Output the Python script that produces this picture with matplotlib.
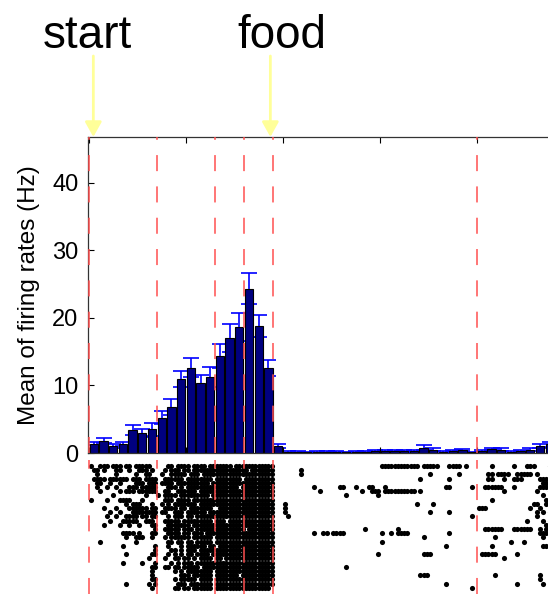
import matplotlib
matplotlib.use("Agg")
import matplotlib.pyplot as plt
import numpy as np

plt.rcParams["font.family"] = ["Liberation Sans", "DejaVu Sans"]

# mean firing rate per time bin (Hz) and its error
rates = [1.4, 1.8, 1.0, 1.3, 3.4, 3.0, 3.5, 5.2, 6.8, 11.0, 12.6, 10.4, 11.3, 14.4, 17.0, 18.7, 24.3, 18.8, 12.6,
         1.1, 0.1, 0.2, 0.1, 0.1, 0.1, 0.1, 0.1, 0.1, 0.2, 0.3, 0.3, 0.3, 0.3, 0.3, 0.8, 0.5, 0.1, 0.3, 0.4,
         0.1, 0.3, 0.6, 0.5, 0.1, 0.3, 0.5, 1.0, 1.3]
errors = [0.25, 0.35, 0.3, 0.3, 0.7, 0.6, 1.0, 0.95, 1.2, 1.2, 1.4, 1.1, 1.5, 1.8, 2.1, 2.1, 2.3, 1.6, 1.2,
          0.3, 0.15, 0.15, 0.1, 0.15, 0.15, 0.15, 0.1, 0.15, 0.15, 0.15, 0.15, 0.2, 0.15, 0.2, 0.4, 0.2, 0.15,
          0.15, 0.15, 0.1, 0.2, 0.2, 0.2, 0.15, 0.2, 0.2, 0.3, 0.4]

# event boundaries (in bins)
events = [0, 7, 13, 16, 19, 40]

# annotations: label, text position, arrow position (bins)
labels = ["start", "food"]
label_x = [-0.15, 19.9]
arrow_x = [0.45, 18.7]

y_ticks = [0, 10, 20, 30, 40]
x_ticks = [0, 10, 20, 30, 40, 50]

# spike raster, 3 columns per bin
# left part (bins 0-19): segments start at columns 0, 21, 39
raster_left = [
    "#..###.###.##.#####..|...##.####.####.##|#####.############",
    ".##.#...##..#..###.#.|..#.###.##.#######|##########.#######",
    "..#.....#.....#..##..|.#..#####.###.####|##################",
    ".####.######.###.####|..######.########.|########.#########",
    "..##..#..#....###.###|.####.##########.#|##################",
    "..#..#..#...###.#####|...###.#.#########|#######.##########",
    "...#.....#.###.######|..##..######.#####|##################",
    ".......#.........#...|#.####.#########.#|##################",
    "#....#...####...#....|..###.####.#######|##################",
    "...........#.###...#.|.#.#.#######.#####|##################",
    "....#...#...######.##|..####.##.#######.|.#################",
    "......#..#...########|.##..###.######.##|##################",
    ".....#..#..####.##.##|...#.###.##.######|##################",
    "......#...#####..###.|..#####.#########|###.##############",
    "....#....#..#..#...##|...#######.#######|##################",
    "....................#|..#####.###.######|#########.########",
    "..........####.#...##|...####.##.###.###|##################",
    "...........#..###..#.|..#.######.######.|##################",
    "...#..........#......|...##.##.##.#####.|##################",
    "..........#.........#|...#...#.######.##|.#################",
    "....................#|....##.#.###.#####|##################",
    "...........#.......##|...#.#.#.##.####.#|##################",
    "..................#..|..#..##.##.#.####.|##.###############",
    "..........#.....#...#|....#.#.###.######|##################",
    "...................##|..##.##.#####.####|##################",
    "...................#.|.....#.#.########.|##################",
    "...................#.|.......###.######|#######.##########",
    "...................##|.....#.#####.####.|##################",
    "...........#......#.#|......###.#######.|##################",
    "...................#.|.....##.##.######|#################.",
]
# right part (after food): spike columns per trial row
raster_right = [
    [90, 91, 92, 93, 94, 95, 96, 97, 98, 99, 100, 101, 103, 104, 105, 106, 107, 111, 112, 113, 114, 116, 124, 131, 135, 136, 137, 142],
    [65],
    [65, 105, 114, 123, 124, 126, 127, 128, 129, 132, 133, 134, 135, 136, 138],
    [102, 111, 123, 124, 128, 131, 132, 133, 139, 140, 141, 142],
    [140, 141],
    [69, 77, 78, 82, 86, 87, 91, 110, 111, 118, 122, 123, 124, 125, 126, 127, 131, 139, 140, 141, 142],
    [71, 84, 87, 88, 89, 91, 92, 93, 94, 95, 96, 97, 98, 99, 100, 102, 128, 138, 142],
    [79, 89, 140],
    [124, 141],
    [60, 101, 106, 137, 138, 141],
    [60, 120, 121, 122, 136, 139],
    [60, 105, 111, 138, 140, 142],
    [61, 118, 138],
    [135, 140, 142],
    [141],
    [85, 95, 122, 123, 124, 125, 126, 127, 131, 132, 133, 134, 135, 136, 139, 141],
    [69, 72, 73, 75, 76, 77, 78, 90, 93, 95, 96, 97, 98, 111, 139, 140, 141, 142],
    [103, 125, 140],
    [90, 130, 134],
    [110, 124, 140, 141, 142],
    [],
    [89, 103, 104, 105, 121, 122, 123, 124, 125, 132],
    [128],
    [],
    [79],
    [],
    [102, 103, 104, 125, 139],
    [139],
    [110, 132, 140],
    [118],
]

# collect spike positions
spike_x = []
spike_y = []
offsets = [0, 21, 39]
for r, row in enumerate(raster_left):
    for seg, off in zip(row.split("|"), offsets):
        for j, ch in enumerate(seg):
            if ch == "#":
                spike_x.append((off + j + 0.5) / 3)
                spike_y.append(r)
for r, cols in enumerate(raster_right):
    for c in cols:
        spike_x.append((c + 0.5) / 3)
        spike_y.append(r)

W, H = 548, 594
fig = plt.figure(figsize=(W / 100, H / 100), dpi=100)

px_per_bin = 9.7
ax_w = 520
xlim = (-0.1, -0.1 + ax_w / px_per_bin)

ax = fig.add_axes([88 / W, 141 / H, ax_w / W, 316 / H])
bins = np.arange(len(rates)) + 0.5
ax.errorbar(bins, rates, yerr=errors, fmt="none", ecolor="#0000ff",
            elinewidth=1.2, capsize=5.5, capthick=1.2, zorder=1)
ax.bar(bins, rates, width=0.85, color="#000080", edgecolor="black",
       linewidth=0.8, zorder=2)
for e in events:
    ax.axvline(e, color="#ff4f4f", linewidth=1.1, linestyle=(0, (10.5, 10)), zorder=3)

ax.set_xlim(*xlim)
ax.set_ylim(0, 46.8)
ax.set_yticks(y_ticks)
ax.set_xticks(x_ticks)
ax.set_xticklabels([])
ax.tick_params(direction="in", length=4, width=0.8, top=True, right=True,
               labelsize=17, pad=7)
for s in ax.spines.values():
    s.set_linewidth(0.9)
    s.set_color("#333333")
ax.set_ylabel("Mean of firing rates (Hz)", fontsize=17.5, labelpad=9)

# event labels with yellow arrows
top_frac = 1 + (137 - 56) / 316
text_frac = 1 + (137 - 48) / 316
for lab, tx, axx in zip(labels, label_x, arrow_x):
    ax.text(tx, text_frac, lab, transform=ax.get_xaxis_transform(),
            ha="center", va="baseline", fontsize=33, clip_on=False)
    ax.annotate("", xy=(axx, 1.0), xytext=(axx, top_frac),
                xycoords=ax.get_xaxis_transform(), textcoords=ax.get_xaxis_transform(),
                arrowprops=dict(arrowstyle="-|>,head_length=0.9,head_width=0.5",
                                color="#ffff99", lw=2.0, shrinkA=0, shrinkB=0),
                annotation_clip=False)

# raster below
rax = fig.add_axes([88 / W, 0, ax_w / W, 134 / H])
rax.plot(spike_x, spike_y, "o", color="black", markersize=3.7, markeredgewidth=0, zorder=1)
for e in events:
    rax.axvline(e, color="#ff4f4f", linewidth=1.1, linestyle=(0, (10.5, 10)), zorder=3)
rax.set_xlim(*xlim)
rax.set_ylim((594 - 466) / 4.2, (460 - 466) / 4.2)
rax.axis("off")

fig.savefig("out.png", dpi=100)
